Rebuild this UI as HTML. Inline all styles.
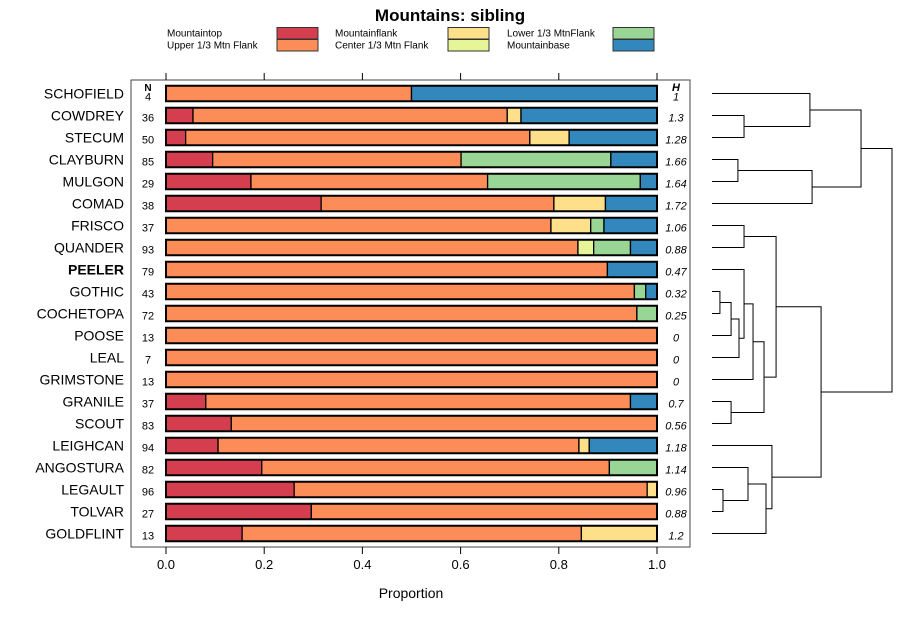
<!DOCTYPE html>
<html><head><meta charset="utf-8">
<style>
body{margin:0;background:#fff;}
svg{display:block;font-family:"Liberation Sans",sans-serif;}
</style></head>
<body>
<svg id="chart" width="900" height="620" viewBox="0 0 900 620">
<text x="450" y="21" text-anchor="middle" font-size="17" font-weight="bold">Mountains: sibling</text>
<g id="legend" font-size="10"></g>
<g id="panel"></g>
<g id="dendro" stroke="#000" fill="none" stroke-width="1"></g>
</svg>
<script>
const names = ["SCHOFIELD","COWDREY","STECUM","CLAYBURN","MULGON","COMAD","FRISCO","QUANDER","PEELER","GOTHIC","COCHETOPA","POOSE","LEAL","GRIMSTONE","GRANILE","SCOUT","LEIGHCAN","ANGOSTURA","LEGAULT","TOLVAR","GOLDFLINT"];
const nVals = [4,36,50,85,29,38,37,93,79,43,72,13,7,13,37,83,94,82,96,27,13];
const hVals = ["1","1.3","1.28","1.66","1.64","1.72","1.06","0.88","0.47","0.32","0.25","0","0","0","0.7","0.56","1.18","1.14","0.96","0.88","1.2"];
const categories = ["Mountaintop","Upper 1/3 Mtn Flank","Mountainflank","Center 1/3 Mtn Flank","Lower 1/3 MtnFlank","Mountainbase"];
const colors = ["#d53e4f","#fc8d59","#fee08b","#e6f598","#99d594","#3288bd"];
const sMountaintop = [0,0.055,0.04,0.095,0.173,0.316,0,0,0,0,0,0,0,0,0.081,0.133,0.106,0.195,0.261,0.296,0.155];
const sUpper = [0.5,0.64,0.701,0.506,0.482,0.474,0.784,0.839,0.899,0.954,0.959,1,1,1,0.865,0.867,0.735,0.708,0.719,0.704,0.691];
const sFlank = [0,0.028,0.08,0,0,0.105,0.081,0,0,0,0,0,0,0,0,0,0.021,0,0.02,0,0.154];
const sCenter = [0,0,0,0,0,0,0,0.032,0,0,0,0,0,0,0,0,0,0,0,0,0];
const sLower = [0,0,0,0.305,0.311,0,0.027,0.075,0,0.023,0.041,0,0,0,0,0,0,0.097,0,0,0];
const sBase = [0.5,0.277,0.179,0.094,0.034,0.105,0.108,0.054,0.101,0.023,0,0,0,0,0.054,0,0.138,0,0,0,0];
const series = [sMountaintop,sUpper,sFlank,sCenter,sLower,sBase];
const xTicks = [0,0.2,0.4,0.6,0.8,1.0];
const xTickLabels = ["0.0","0.2","0.4","0.6","0.8","1.0"];
// dendrogram merges: [childA, childB, height]; ids 0-20 leaves, 21+ merges
const merges = [
 [1,2,0.178],[0,21,0.544],[3,4,0.144],[23,5,0.556],[22,24,0.828],
 [6,7,0.178],[9,10,0.044],[27,11,0.106],[28,12,0.15],[8,29,0.178],[30,13,0.228],
 [14,15,0.106],[31,32,0.289],[26,33,0.356],[19,18,0.061],[17,35,0.2],[36,20,0.3],
 [16,37,0.333],[34,38,0.606],[25,39,1.0]
];

const NS="http://www.w3.org/2000/svg";
function mk(tag, attrs, parent, text){const e=document.createElementNS(NS,tag);for(const k in attrs)e.setAttribute(k,attrs[k]);if(text!==undefined)e.textContent=text;parent.appendChild(e);return e;}
const X0=166,X1=657;
const xs=v=>X0+v*(X1-X0);
const ys=i=>93.5+i*22;
const BH=15.5;

// legend
const leg=document.getElementById('legend');
const legPos=[[167,277,33],[167,277,45],[335,448,33],[335,448,45],[507,613,33],[507,613,45]];
categories.forEach((c,k)=>{
  const p=legPos[k];
  const t=mk('text',{x:p[0],y:p[2]+3.5,fill:'#000'},leg,c);
  
  
  const r=mk('rect',{x:p[1],y:p[2]-5.5,width:41,height:11.5,fill:colors[k],stroke:'#333','stroke-width':1},leg);
  
  
});

// panel
const pan=document.getElementById('panel');
const box=mk('rect',{x:131,y:80,width:559,height:467,fill:'none',stroke:'#444','stroke-width':1},pan);


xTicks.forEach((v,k)=>{
  mk('line',{x1:xs(v),x2:xs(v),y1:73,y2:80,stroke:'#000'},pan);
  mk('line',{x1:xs(v),x2:xs(v),y1:547,y2:554,stroke:'#000'},pan);
  const t=mk('text',{x:xs(v),y:569,'text-anchor':'middle','font-size':13},pan,xTickLabels[k]);
  
  
});
const xt=mk('text',{x:411,y:598,'text-anchor':'middle','font-size':14},pan,'Proportion');


const nh=mk('text',{x:148,y:91,'text-anchor':'middle','font-size':10,'font-weight':'bold'},pan,'N');


const hh=mk('text',{x:676,y:91,'text-anchor':'middle','font-size':11,'font-weight':'bold','font-style':'italic'},pan,'H');



names.forEach((nm,i)=>{
  const y=ys(i);
  const lab=mk('text',{x:124,y:y+5,'text-anchor':'end','font-size':14,'font-weight':nm==='PEELER'?'bold':'normal'},pan,nm);
  
  
  const nt=mk('text',{x:148,y:i===0?y+7:y+6,'text-anchor':'middle','font-size':11},pan,String(nVals[i]));
  
  
  const ht=mk('text',{x:676,y:i===0?y+7:y+6,'text-anchor':'middle','font-size':11,'font-style':'italic'},pan,hVals[i]);
  
  
  let cum=0;
  series.forEach((s,k)=>{
    const v=s[i];
    if(v>0){
      const r=mk('rect',{x:xs(cum),y:y-BH/2,width:xs(cum+v)-xs(cum),height:BH,fill:colors[k],stroke:'#000','stroke-width':1.3},pan);
      
      
    }
    cum+=v;
  });
  const o=mk('rect',{x:xs(0),y:y-BH/2,width:xs(1)-xs(0),height:BH,fill:'none',stroke:'#000','stroke-width':2},pan);
  
  
});

// dendrogram
const den=document.getElementById('dendro');
const DX0=712,DX1=892;
const dx=h=>DX0+h*(DX1-DX0);
const nodeY=[],nodeH=[];
names.forEach((n,i)=>{nodeY[i]=ys(i);nodeH[i]=0;});
merges.forEach((m,j)=>{
  const id=names.length+j;
  const [a,b,h]=m;
  const x=dx(h);
  const p=mk('path',{d:`M${dx(nodeH[a])},${nodeY[a]}H${x}V${nodeY[b]}H${dx(nodeH[b])}`},den);
  
  
  nodeY[id]=(nodeY[a]+nodeY[b])/2;
  nodeH[id]=h;
});
</script>
</body></html>
